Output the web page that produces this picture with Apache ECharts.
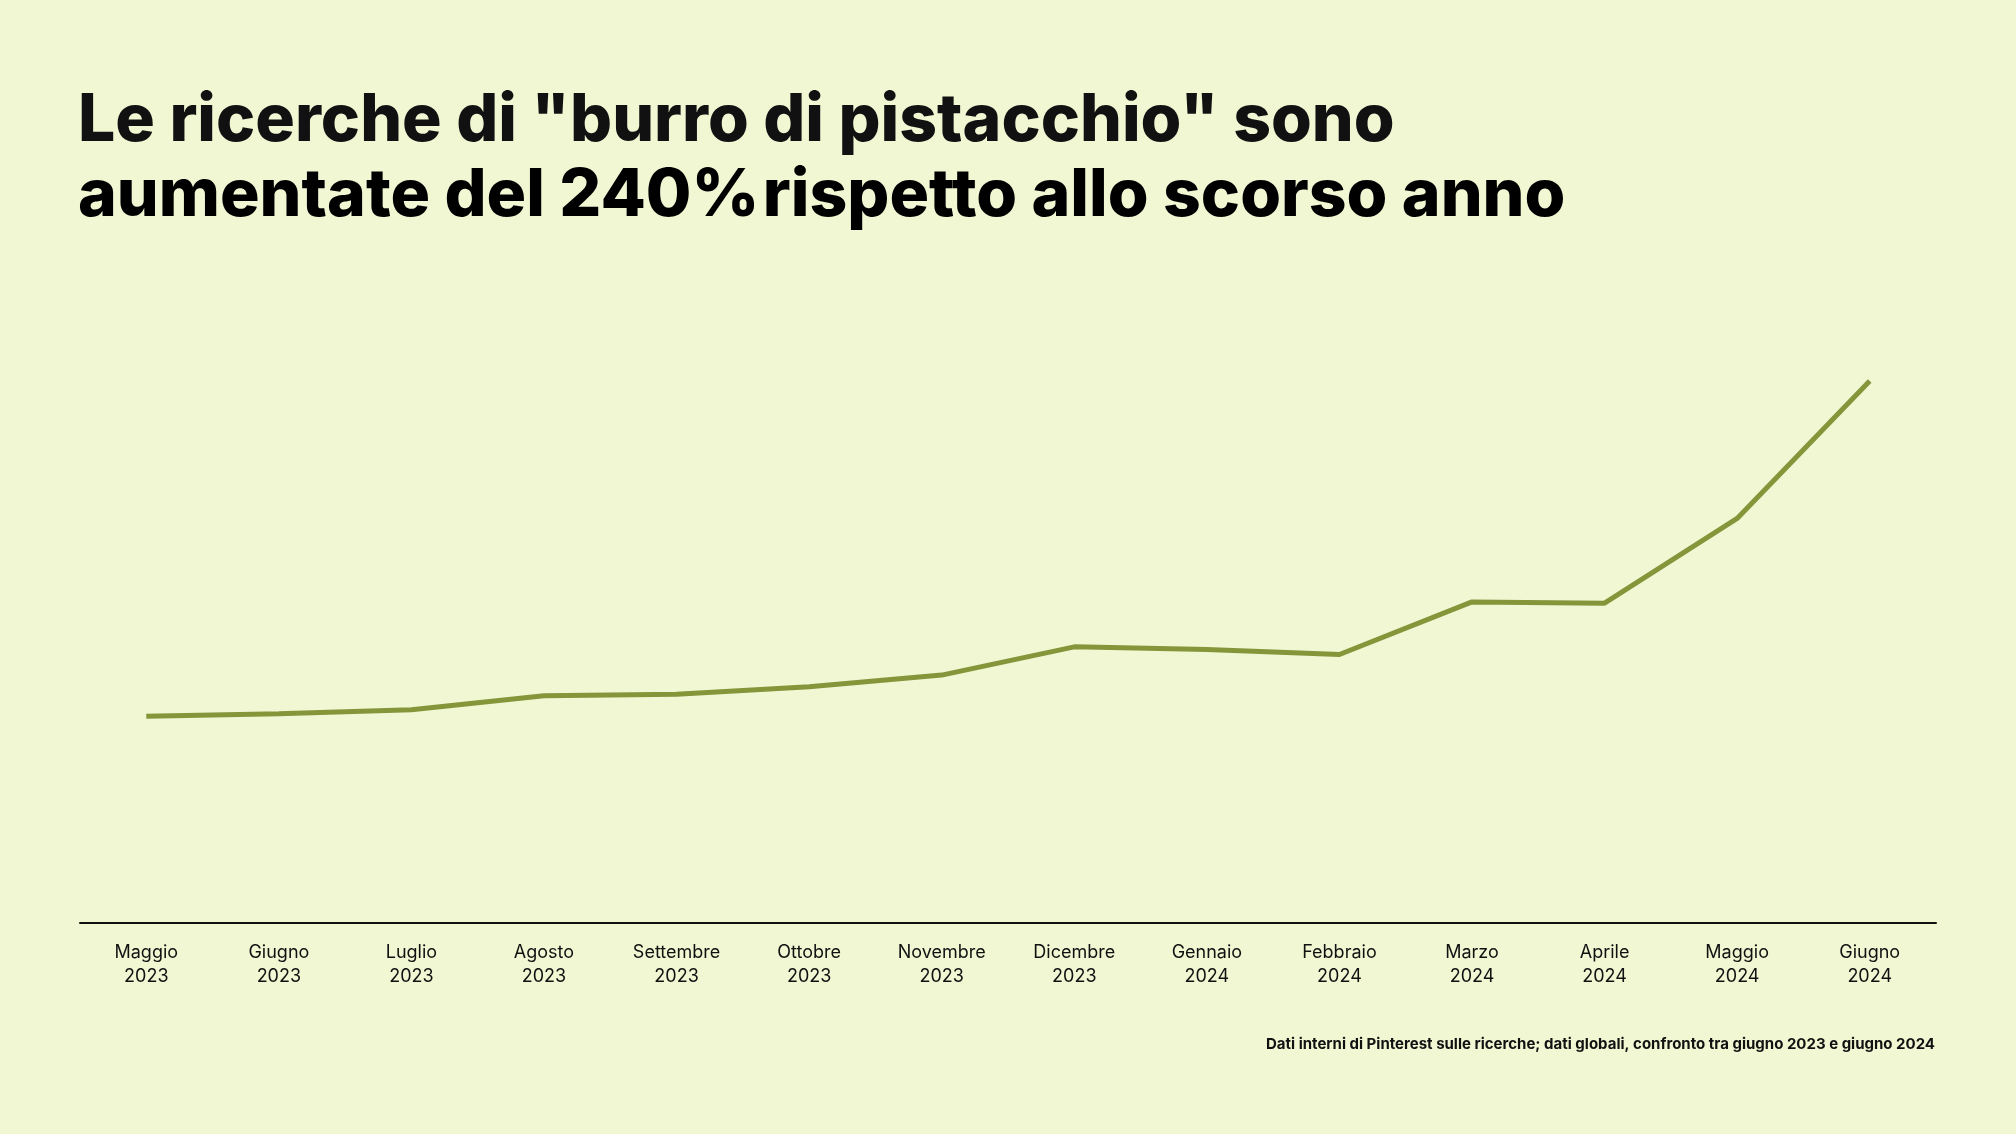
<!DOCTYPE html>
<html><head><meta charset="utf-8">
<script src="https://cdn.jsdelivr.net/npm/echarts@6/dist/echarts.min.js"></script>
<style>html,body{margin:0;padding:0;background:#f1f6d3}#c{width:2016px;height:1134px}</style>
</head><body><div id="c"></div>
<script>
const categories = ["Maggio\n2023","Giugno\n2023","Luglio\n2023","Agosto\n2023","Settembre\n2023","Ottobre\n2023","Novembre\n2023","Dicembre\n2023","Gennaio\n2024","Febbraio\n2024","Marzo\n2024","Aprile\n2024","Maggio\n2024","Giugno\n2024"];
const values = [161,163,166,177,178,184,193,215,213,209,250,249,315,422];
const chart = echarts.init(document.getElementById('c'));
chart.setOption({
  backgroundColor:'#f1f6d3',
  grid:{left:80,right:80,top:345,bottom:211},
  xAxis:{type:'category',data:categories,boundaryGap:true,
    axisLine:{lineStyle:{color:'#111',width:2}},axisTick:{show:false},
    axisLabel:{color:'#111',fontSize:18,fontFamily:'Inter',lineHeight:24,margin:18}},
  yAxis:{type:'value',min:0,max:450,show:false,splitLine:{show:false}},
  series:[{type:'line',data:values,symbol:'none',lineStyle:{color:'#84953a',width:5}}],
  graphic:[
    {type:'text',left:78,top:88,style:{text:'Le ricerche di "burro di pistacchio" sono',font:'800 66px Inter',fill:'#111'}},
    {type:'text',left:78,top:163,style:{text:'{g|aumentate del 240%} {b|rispetto allo scorso anno}',
      rich:{g:{font:'800 66px Inter',color:'#869438'},b:{font:'800 66px Inter',color:'#111'}}}},
    {type:'text',right:81,top:1037,style:{text:'Dati interni di Pinterest sulle ricerche; dati globali, confronto tra giugno 2023 e giugno 2024',font:'700 15px Inter',fill:'#111'}}
  ]
});
</script></body></html>
